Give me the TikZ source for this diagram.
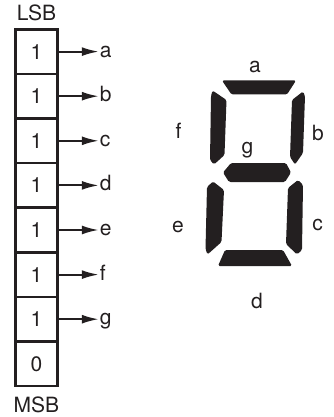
\documentclass[tikz,border=0pt]{standalone}
\usepackage{fontspec}
\setmainfont{TeX Gyre Heros}
\usetikzlibrary{arrows.meta, positioning}
\definecolor{segdark}{RGB}{35,31,32}

\begin{document}
\begin{tikzpicture}[x=1pt, y=-1pt, >={Latex[length=17pt,width=9pt]},
  font=\fontsize{21}{25}\selectfont,
  bitcell/.style={draw=segdark, line width=2.6pt, minimum width=42.5pt,
    minimum height=44.6pt, inner sep=0pt, outer sep=0pt, text=segdark},
  outlbl/.style={anchor=west, inner xsep=1pt, inner ysep=0pt,
    text height=11pt, text depth=0pt, text=segdark},
  seglbl/.style={anchor=base, inner sep=0pt, text=segdark},
  segment/.style={fill=segdark, rounded corners=1.5pt}]
  \useasboundingbox (0,0) rectangle (334,417);

  % Register, LSB on top
  \node[bitcell] (bit0) at (36.5,51.6) {1};
  \node[bitcell, below=0pt of bit0] (bit1) {1};
  \node[bitcell, below=0pt of bit1] (bit2) {1};
  \node[bitcell, below=0pt of bit2] (bit3) {1};
  \node[bitcell, below=0pt of bit3] (bit4) {1};
  \node[bitcell, below=0pt of bit4] (bit5) {1};
  \node[bitcell, below=0pt of bit5] (bit6) {1};
  \node[bitcell, below=0pt of bit6] (bit7) {0};
  \node[above=8.5pt of bit0, inner sep=0pt, text=segdark] (lsb) {LSB};
  \node[below=11pt of bit7, inner sep=0pt, text=segdark] (msb) {MSB};

  % Outputs
  \node[outlbl, right=41pt of bit0] (outa) {a};
  \node[outlbl, right=41pt of bit1] (outb) {b};
  \node[outlbl, right=41pt of bit2] (outc) {c};
  \node[outlbl, right=41pt of bit3] (outd) {d};
  \node[outlbl, right=41pt of bit4] (oute) {e};
  \node[outlbl, right=41pt of bit5] (outf) {f};
  \node[outlbl, right=41pt of bit6] (outg) {g};
  \draw[->, line width=2pt, segdark] (bit0.east) -- (outa.west);
  \draw[->, line width=2pt, segdark] (bit1.east) -- (outb.west);
  \draw[->, line width=2pt, segdark] (bit2.east) -- (outc.west);
  \draw[->, line width=2pt, segdark] (bit3.east) -- (outd.west);
  \draw[->, line width=2pt, segdark] (bit4.east) -- (oute.west);
  \draw[->, line width=2pt, segdark] (bit5.east) -- (outf.west);
  \draw[->, line width=2pt, segdark] (bit6.east) -- (outg.west);

  % Seven-segment digit
  \fill[segment] (222,80.5) -- (296,80.5) -- (287,94.5) -- (231.5,94.5) -- cycle;
  \fill[segment] (212.5,90.5) -- (226.5,100) -- (224.5,155) -- (214,164.5)
    -- (210,160) -- (211,96) -- cycle;
  \fill[segment] (303,91.5) -- (305,96) -- (303,153) -- (295,164.5)
    -- (290,157) -- (292,100) -- cycle;
  \fill[segment] (231,163) -- (286,163) -- (291,172.5) -- (285,182)
    -- (229,182) -- (223,172.5) -- cycle;
  \fill[segment] (213,181.5) -- (224,190) -- (221.5,242) -- (207.5,254.5)
    -- (205.5,249) -- (207,187) -- cycle;
  \fill[segment] (298,180) -- (303,185) -- (302,250) -- (297,254.5)
    -- (286,244) -- (288,188) -- cycle;
  \fill[segment] (225,250) -- (283,250) -- (292,266) -- (218,266) -- cycle;

  \node[seglbl] (sega) at (255,73) {a};
  \node[seglbl] (segb) at (318,140) {b};
  \node[seglbl] (segc) at (317.5,230) {c};
  \node[seglbl] (segd) at (257,308) {d};
  \node[seglbl] (sege) at (178,232) {e};
  \node[seglbl] (segf) at (178.5,138) {f};
  \node[seglbl] (segg) at (247.5,153) {g};
\end{tikzpicture}
\end{document}
